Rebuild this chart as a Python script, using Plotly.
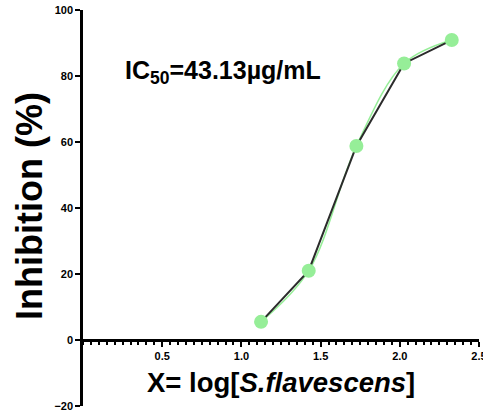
import plotly.graph_objects as go

# Data
log_conc = [1.124, 1.425, 1.726, 2.027, 2.328]
inhibition = [5.5, 21.0, 58.8, 83.8, 90.9]
x_tick_vals = [0.5, 1.0, 1.5, 2.0, 2.5]
x_tick_text = ["0.5", "1.0", "1.5", "2.0", "2.5"]
x_minor_vals = [round(i * 0.05, 2) for i in range(51)]
y_tick_vals = [-20, 0, 20, 40, 60, 80, 100]
ic50_label = "IC<sub>50</sub>=43.13µg/mL"

FONT = "Liberation Sans, Arial, sans-serif"
GREEN = "#96EE98"

# page body margin is removed in post_script; plot area at x 83..479, y 10..406
L, R, T, B = 83, 479, 10, 406
W, H = 483, 413
PW, PH = R - L, B - T


def px(xs):
    return (xs - L) / PW


def py(ys):
    return (B - ys) / PH


fig = go.Figure()
fig.add_trace(go.Scatter(x=log_conc, y=inhibition, mode="lines",
                         line=dict(color=GREEN, width=1.5, shape="spline", smoothing=1.0),
                         hoverinfo="skip", showlegend=False))
fig.add_trace(go.Scatter(x=log_conc, y=inhibition, mode="lines",
                         line=dict(color="#2b2b2b", width=2), showlegend=False))
fig.add_trace(go.Scatter(x=log_conc, y=inhibition, mode="markers",
                         marker=dict(color=GREEN, size=14), showlegend=False))

fig.update_layout(
    width=W, height=H,
    margin=dict(l=L, r=W - R, t=T, b=H - B, autoexpand=False),
    paper_bgcolor="white", plot_bgcolor="white",
    font=dict(family=FONT, color="black"),
    showlegend=False,
    xaxis=dict(range=[0, 2.5], anchor="free", position=20 / 120, automargin=False,
               showline=True, linecolor="black", linewidth=2.5,
               showgrid=False, zeroline=False,
               tickmode="array", tickvals=x_tick_vals, ticktext=x_tick_text,
               ticks="outside", ticklen=5, tickwidth=2, tickcolor="black",
               ticklabeloverflow="allow",
               tickfont=dict(family=FONT, size=11, weight="bold"),
               minor=dict(tickmode="array", tickvals=x_minor_vals, ticks="outside",
                          ticklen=3, tickwidth=1.5, tickcolor="black", showgrid=False)),
    yaxis=dict(range=[-20, 100], automargin=False,
               showline=True, linecolor="black", linewidth=2.5,
               showgrid=False, zeroline=False,
               tickvals=y_tick_vals,
               ticks="outside", ticklen=5, tickwidth=2, tickcolor="black",
               ticklabeloverflow="allow",
               tickfont=dict(family=FONT, size=11, weight="bold")),
    annotations=[
        dict(text="Inhibition (%)", xref="paper", yref="paper",
             x=px(29), y=py(206), xanchor="center", yanchor="middle",
             textangle=-90, showarrow=False,
             font=dict(family=FONT, size=36, weight="bold", color="black")),
        dict(text="X= log[<i>S.flavescens</i>]", xref="paper", yref="paper",
             x=px(281), y=py(382), xanchor="center", yanchor="middle",
             showarrow=False,
             font=dict(family=FONT, size=27.5, weight="bold", color="black")),
        dict(text=ic50_label, xref="paper", yref="paper",
             x=px(123), y=py(72), xanchor="left", yanchor="middle",
             showarrow=False,
             font=dict(family=FONT, size=25, weight="bold", color="black")),
    ],
)

fig.write_html("out.html",
               config={"displayModeBar": False},
               post_script="document.body.style.margin='0';document.body.style.overflow='hidden';")
